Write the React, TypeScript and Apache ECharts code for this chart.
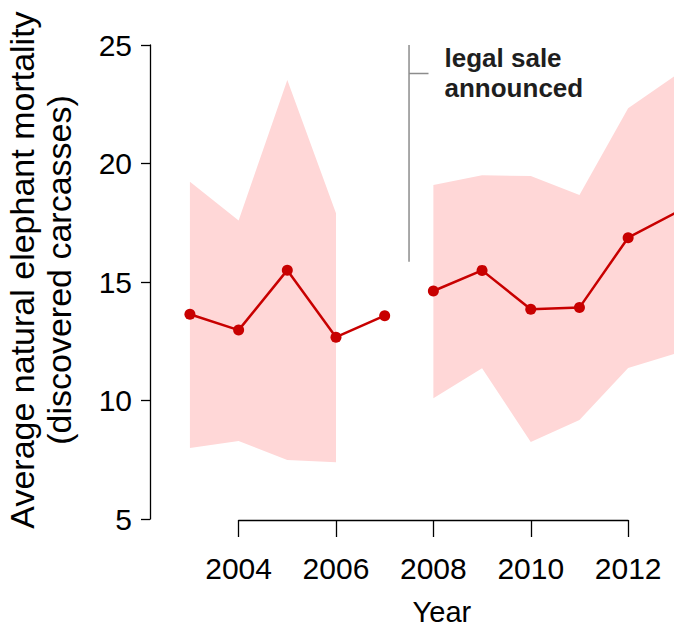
import React, { useEffect, useRef } from "react";
import * as echarts from "echarts";

const years = [2003, 2004, 2005, 2006, 2007, 2008, 2009, 2010, 2011, 2012, 2013];
const meanMortality = [13.64, 12.97, 15.5, 12.67, 13.58, 14.62, 15.49, 13.85, 13.92, 16.87, 17.95];
const bandLow = [8.0, 8.29, 7.49, 7.39, null, 10.1, 11.36, 8.25, 9.18, 11.37, 12.0];
const bandHigh = [19.23, 17.6, 23.52, 17.9, null, 19.09, 19.5, 19.47, 18.67, 22.33, 23.75];
const yTicks = { min: 5, max: 25, interval: 5 };
const xTicks = { min: 2004, max: 2012, interval: 2 };
const saleYear = 2007.5;
const saleLineBottom = 15.85;
const saleTickY = 23.8;
const saleTickEnd = 2007.9;
const saleText = "legal sale\nannounced";

const FONT = "'Liberation Sans', Arial, Helvetica, sans-serif";
const RED = "#c80000";
const PINK = "#ffd7d7";

// scale layout
const W = 674;
const pxPerYear = 48.69;
const gridLeft = 150;
const xMin = 2002.18;
const xMax = xMin + (W - gridLeft) / pxPerYear;
const gridTop = 45;
const gridHeight = 474;

function runs(pred: (i: number) => boolean): number[][] {
  const out: number[][] = [];
  let cur: number[] = [];
  years.forEach((_, i) => {
    if (pred(i)) cur.push(i);
    else if (cur.length) {
      out.push(cur);
      cur = [];
    }
  });
  if (cur.length) out.push(cur);
  return out;
}

export default function App() {
  const ref = useRef<HTMLDivElement>(null);
  useEffect(() => {
    if (!ref.current) return;
    const chart = echarts.init(ref.current, null, { renderer: "svg" });
    const bandSegs = runs((i) => bandLow[i] != null && bandHigh[i] != null);
    const before = years.map((y, i) => i).filter((i) => years[i] < saleYear);
    const after = years.map((y, i) => i).filter((i) => years[i] > saleYear);

    const lineSeries = [before, after].map((idx) => ({
      type: "line",
      xAxisIndex: 0,
      yAxisIndex: 0,
      z: 5,
      clip: true,
      data: idx.map((i) => [years[i], meanMortality[i]]),
      symbol: "circle",
      symbolSize: 11,
      showSymbol: true,
      showAllSymbol: true,
      lineStyle: { color: RED, width: 2.5 },
      itemStyle: { color: RED, opacity: 1 },
      silent: true,
    }));

    chart.setOption({
      animation: false,
      textStyle: { fontFamily: FONT },
      grid: [
        {
          left: gridLeft,
          top: gridTop,
          width: W - gridLeft,
          height: gridHeight,
          outerBoundsMode: "none",
          containLabel: false,
        },
        {
          left: gridLeft + (xTicks.min - xMin) * pxPerYear,
          top: gridTop,
          width: (xTicks.max - xTicks.min) * pxPerYear,
          height: gridHeight + 1,
          outerBoundsMode: "none",
          containLabel: false,
        },
      ],
      xAxis: [
        { type: "value", gridIndex: 0, min: xMin, max: xMax, show: false },
        {
          type: "value",
          gridIndex: 1,
          min: xTicks.min,
          max: xTicks.max,
          interval: xTicks.interval,
          axisLine: { show: true, lineStyle: { color: "#000", width: 1.3 } },
          axisTick: { show: true, length: 17, lineStyle: { color: "#000", width: 1.3 } },
          axisLabel: {
            fontSize: 30,
            color: "#000",
            margin: 33,
            fontFamily: FONT,
            formatter: (v: number) => String(v),
          },
          splitLine: { show: false },
          name: "Year",
          nameLocation: "middle",
          nameGap: 77,
          nameTextStyle: { fontSize: 29, color: "#000", fontFamily: FONT, padding: [0, 0, 0, 17] },
        },
      ],
      yAxis: [
        {
          type: "value",
          gridIndex: 0,
          min: yTicks.min,
          max: yTicks.max,
          interval: yTicks.interval,
          axisLine: { show: true, lineStyle: { color: "#000", width: 1.3 } },
          axisTick: { show: true, length: 9, lineStyle: { color: "#000", width: 1.3 } },
          axisLabel: { fontSize: 30, color: "#000", margin: 18, fontFamily: FONT },
          splitLine: { show: false },
          name: "Average natural elephant mortality\n(discovered carcasses)",
          nameLocation: "middle",
          nameRotate: 90,
          nameGap: 73,
          nameTextStyle: {
            fontSize: 34,
            lineHeight: 37,
            color: "#000",
            fontFamily: FONT,
            padding: [0, 0, 0, 24],
          },
        },
        { type: "value", gridIndex: 1, min: 0, max: 1, show: false },
      ],
      series: [
        {
          type: "custom",
          xAxisIndex: 0,
          yAxisIndex: 0,
          z: 1,
          silent: true,
          clip: true,
          data: bandSegs.map((seg) => [years[seg[0]], bandLow[seg[0]]]),
          renderItem: (params: any, api: any) => {
            const seg = bandSegs[params.dataIndex];
            const top = seg.map((i) => api.coord([years[i], bandHigh[i]]));
            const bottom = seg
              .slice()
              .reverse()
              .map((i) => api.coord([years[i], bandLow[i]]));
            return {
              type: "polygon",
              shape: { points: top.concat(bottom) },
              style: { fill: PINK, stroke: null },
            };
          },
        },
        ...lineSeries,
        {
          type: "line",
          xAxisIndex: 0,
          yAxisIndex: 0,
          z: 3,
          silent: true,
          symbol: "none",
          data: [
            [saleYear, saleLineBottom],
            [saleYear, yTicks.max],
          ],
          lineStyle: { color: "#8c8c8c", width: 1.5 },
        },
        {
          type: "line",
          xAxisIndex: 0,
          yAxisIndex: 0,
          z: 3,
          silent: true,
          symbol: "none",
          data: [
            [saleYear, saleTickY],
            [saleTickEnd, saleTickY],
          ],
          lineStyle: { color: "#8c8c8c", width: 1.5 },
        },
        {
          type: "scatter",
          xAxisIndex: 0,
          yAxisIndex: 0,
          z: 4,
          silent: true,
          symbolSize: 0,
          itemStyle: { opacity: 1 },
          data: [[saleTickEnd, saleTickY]],
          label: {
            show: true,
            position: "right",
            distance: 16,
            formatter: saleText,
            fontSize: 26,
            lineHeight: 30,
            fontWeight: "bold",
            color: "#1e1e1e",
            opacity: 1,
            fontFamily: FONT,
            align: "left",
          },
        },
      ],
    });
    return () => chart.dispose();
  }, []);
  return (
    <div
      ref={ref}
      style={{ position: "absolute", left: 0, top: 0, width: W, height: 626 }}
    />
  );
}
